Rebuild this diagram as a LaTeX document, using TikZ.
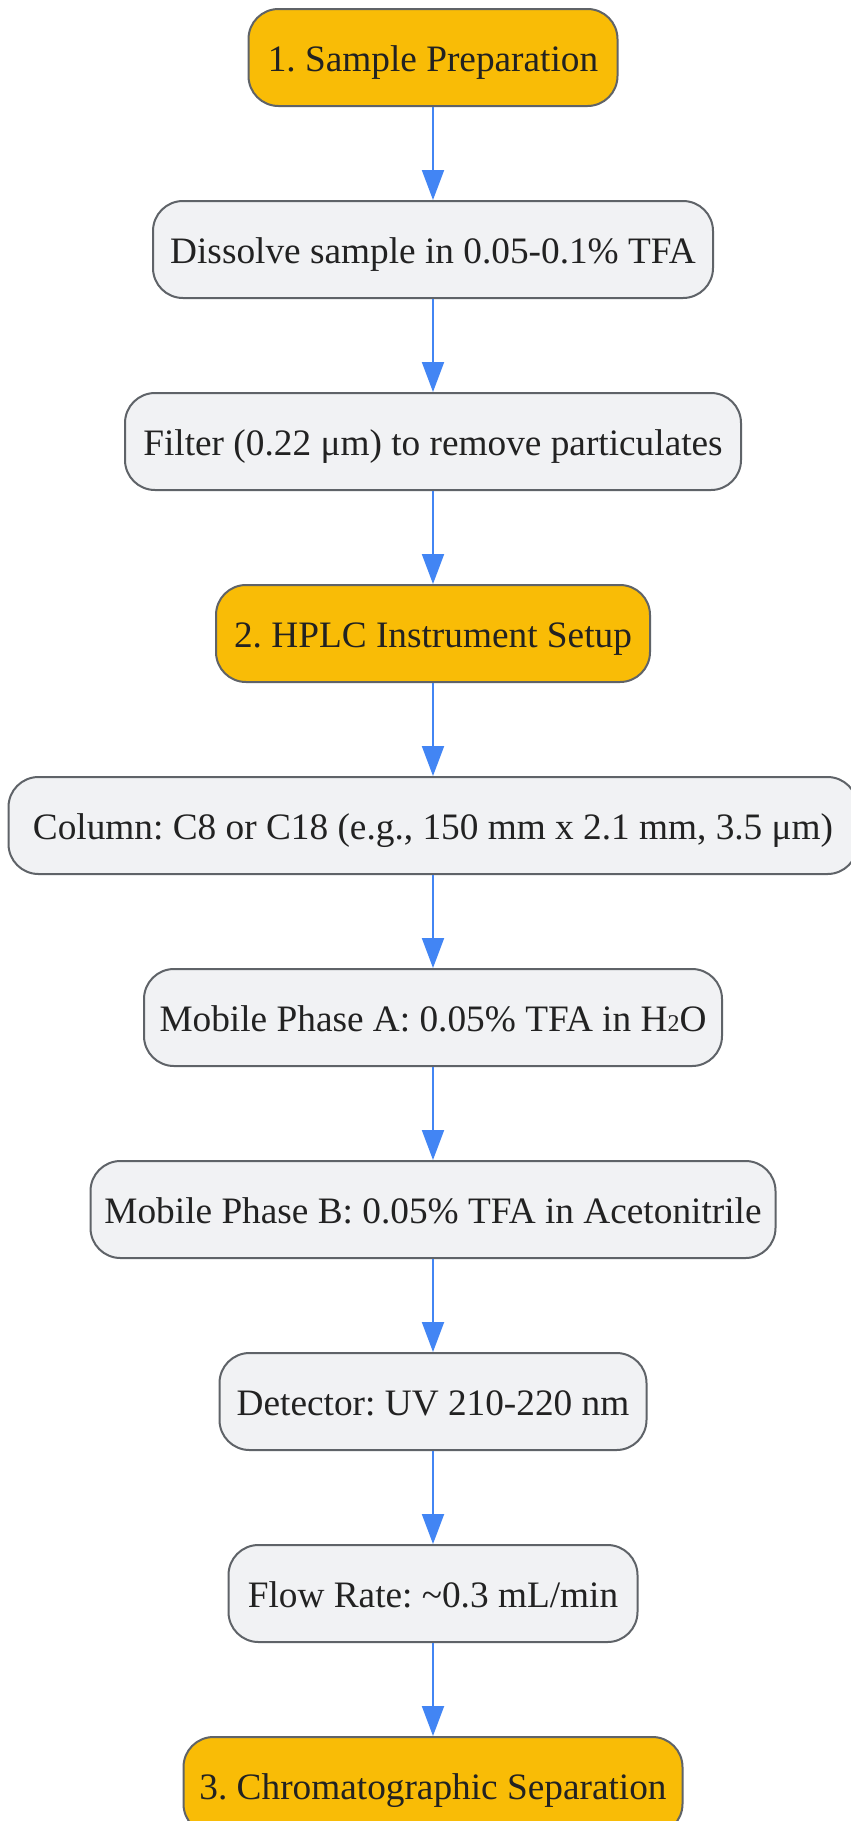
\documentclass[tikz,border=0pt]{standalone}
\usepackage{fontspec}
\setmainfont{Liberation Serif}
\usetikzlibrary{arrows.meta}
\frenchspacing
\definecolor{stepfill}{HTML}{F9BC06}
\definecolor{boxfill}{HTML}{F1F2F4}
\definecolor{boxline}{HTML}{5F6368}
\definecolor{arrowblue}{HTML}{4285F4}
\definecolor{txt}{HTML}{222222}
\newcommand{\subtwo}{{\fontsize{24}{24}\selectfont 2}}
\tikzset{
  basebox/.style={draw=boxline, line width=2pt, rounded corners=30pt, minimum height=97pt,
    inner xsep=8pt, text height=27pt, text depth=0pt, text=txt,
    font=\fontsize{37.3}{44}\selectfont\frenchspacing, anchor=center},
  stagebox/.style={basebox, fill=stepfill},
  infobox/.style={basebox, fill=boxfill},
  flow/.style={draw=arrowblue, line width=2pt, -{Triangle[length=30pt,width=22pt]}}
}
\begin{document}
\begin{tikzpicture}[x=1pt,y=1pt]
\useasboundingbox (0,0) rectangle (851,-1821);
\fill[white] (0,0) rectangle (851,-1821);
\node[stagebox, minimum width=369pt] (s1) at (433,-57.5) {1. Sample Preparation};
\node[infobox, minimum width=560pt] (d1) at (433,-249.5) {Dissolve sample in 0.05-0.1\% TFA};
\node[infobox, minimum width=616pt] (d2) at (433,-441.5) {Filter (0.22 μm) to remove particulates};
\node[stagebox, minimum width=434pt] (s2) at (433,-633.5) {2. HPLC Instrument Setup};
\node[infobox, minimum width=849pt] (c1) at (433,-825.5) {Column: C8 or C18 (e.g., 150 mm x 2.1 mm, 3.5 μm)};
\node[infobox, minimum width=578pt] (c2) at (433,-1017.5) {Mobile Phase A: 0.05\% TFA in H\subtwo O};
\node[infobox, minimum width=685pt] (c3) at (433,-1209.5) {Mobile Phase B: 0.05\% TFA in Acetonitrile};
\node[infobox, minimum width=427pt] (c4) at (433,-1401.5) {Detector: UV 210-220 nm};
\node[infobox, minimum width=409pt] (c5) at (433,-1593.5) {Flow Rate: \textasciitilde0.3 mL/min};
\node[stagebox, minimum width=499pt] (s3) at (433,-1785.5) {3. Chromatographic Separation};
\foreach \a/\b in {s1/d1,d1/d2,d2/s2,s2/c1,c1/c2,c2/c3,c3/c4,c4/c5,c5/s3}
  \draw[flow] (\a.south) -- (\b.north);
\end{tikzpicture}
\end{document}
